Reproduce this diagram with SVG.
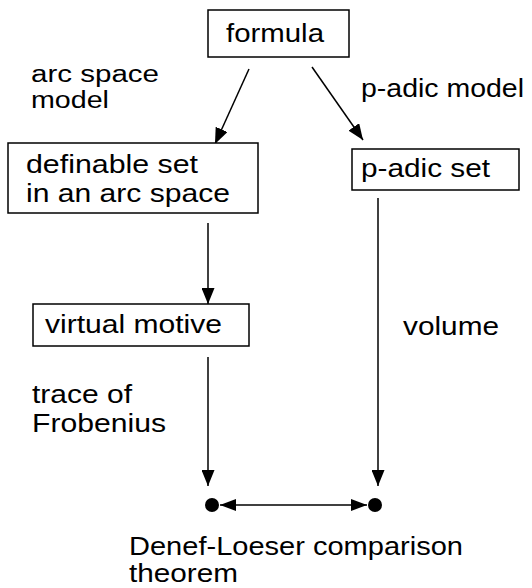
<svg xmlns="http://www.w3.org/2000/svg" width="532" height="588" viewBox="0 0 532 588">
<style>
  .box { fill: #ffffff; stroke: #000000; stroke-width: 1.5; }
  .t { font-family: "Liberation Sans", Arial, Helvetica, sans-serif; font-size: 25px; fill: #000000; }
  .tight { font-size: 23px; }
  .edge { stroke: #000000; stroke-width: 1.5; fill: none; }
  .dot { fill: #000000; }
</style>
<defs>
  <marker id="arrow" markerUnits="userSpaceOnUse" markerWidth="16" markerHeight="13" refX="16" refY="6.5" orient="auto-start-reverse" viewBox="0 0 16 13">
    <path d="M0,0 L16,6.5 L0,13 z" fill="#000000"/>
  </marker>
  <marker id="arrowSmall" markerUnits="userSpaceOnUse" markerWidth="16" markerHeight="12" refX="16" refY="6" orient="auto-start-reverse" viewBox="0 0 16 12">
    <path d="M0,0 L16,6 L0,12 z" fill="#000000"/>
  </marker>
</defs>
<rect width="532" height="588" fill="#ffffff"/>

<g id="connectors">
  <line class="edge" x1="249" y1="69" x2="215" y2="144" marker-end="url(#arrow)"/>
  <line class="edge" x1="312" y1="67" x2="363" y2="140" marker-end="url(#arrow)"/>
  <line class="edge" x1="208" y1="223" x2="208" y2="304" marker-end="url(#arrow)"/>
  <line class="edge" x1="208" y1="357" x2="208" y2="486" marker-end="url(#arrow)"/>
  <line class="edge" x1="378" y1="198" x2="378" y2="486" marker-end="url(#arrow)"/>
  <line class="edge" x1="220" y1="505" x2="367" y2="505" marker-start="url(#arrowSmall)" marker-end="url(#arrowSmall)"/>
</g>

<g id="edge-labels">
  <text class="t tight" x="31" y="82" textLength="128" lengthAdjust="spacingAndGlyphs">arc space</text>
  <text class="t tight" x="31" y="108" textLength="78" lengthAdjust="spacingAndGlyphs">model</text>
  <text class="t" x="361" y="97" textLength="163" lengthAdjust="spacingAndGlyphs">p-adic model</text>
  <text class="t" x="403" y="335" textLength="96" lengthAdjust="spacingAndGlyphs">volume</text>
  <text class="t" x="32" y="403" textLength="100" lengthAdjust="spacingAndGlyphs">trace of</text>
  <text class="t" x="32" y="432" textLength="134" lengthAdjust="spacingAndGlyphs">Frobenius</text>
  <text class="t" x="129" y="555" textLength="334" lengthAdjust="spacingAndGlyphs">Denef-Loeser comparison</text>
  <text class="t" x="129" y="582" textLength="109" lengthAdjust="spacingAndGlyphs">theorem</text>
</g>

<g id="node-formula">
  <rect class="box" x="208" y="10" width="141" height="47"/>
  <text class="t" x="226" y="42" textLength="98" lengthAdjust="spacingAndGlyphs">formula</text>
</g>

<g id="node-definable">
  <rect class="box" x="8" y="143" width="250" height="70"/>
  <text class="t" x="26" y="173" textLength="172" lengthAdjust="spacingAndGlyphs">definable set</text>
  <text class="t" x="26" y="202" textLength="204" lengthAdjust="spacingAndGlyphs">in an arc space</text>
</g>

<g id="node-padic">
  <rect class="box" x="352" y="149" width="167" height="41"/>
  <text class="t" x="361" y="177" textLength="129" lengthAdjust="spacingAndGlyphs">p-adic set</text>
</g>

<g id="node-virtual">
  <rect class="box" x="33" y="304" width="216" height="42"/>
  <text class="t" x="45" y="333" textLength="177" lengthAdjust="spacingAndGlyphs">virtual motive</text>
</g>

<g id="node-dot-left">
  <circle class="dot" cx="212" cy="505" r="7"/>
</g>
<g id="node-dot-right">
  <circle class="dot" cx="375" cy="505" r="7"/>
</g>
</svg>
